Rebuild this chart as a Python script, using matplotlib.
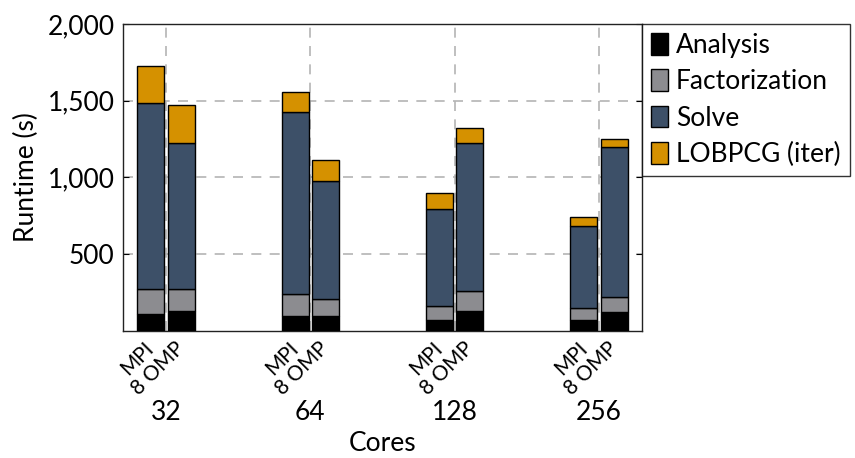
import matplotlib
matplotlib.use("Agg")
import matplotlib.pyplot as plt
import numpy as np

plt.rcParams['font.family'] = ['Lato', 'DejaVu Sans']

cores = ["32", "64", "128", "256"]
configs = ["MPI", "8 OMP"]
series = ["Analysis", "Factorization", "Solve", "LOBPCG (iter)"]
colors = ["#000000", "#8c8c90", "#3d5068", "#d59100"]

mpi_analysis = [113, 98, 74, 72]
mpi_factorization = [161, 143, 91, 78]
mpi_solve = [1211, 1183, 628, 535]
mpi_lobpcg = [243, 135, 105, 60]

omp_analysis = [128, 98, 128, 126]
omp_factorization = [148, 111, 131, 98]
omp_solve = [948, 771, 967, 972]
omp_lobpcg = [248, 137, 94, 52]

yticks = [500, 1000, 1500, 2000]

fig = plt.figure(figsize=(8.55, 4.58), dpi=100)
ax = fig.add_axes([0.1439, 0.2773, 0.6064, 0.6703])

groups = np.arange(len(cores))
offset = 0.105
width = 0.187

mpi = [mpi_analysis, mpi_factorization, mpi_solve, mpi_lobpcg]
omp = [omp_analysis, omp_factorization, omp_solve, omp_lobpcg]

for data, sign in ((mpi, -1), (omp, 1)):
    bottom = np.zeros(len(cores))
    for vals, col, name in zip(data, colors, series):
        ax.bar(groups + sign * offset, vals, width, bottom=bottom, color=col,
               edgecolor="black", linewidth=1.0,
               label=name if sign == -1 else None, zorder=3)
        bottom += np.array(vals)

ax.set_xlim(-0.298, 3.294)
ax.set_ylim(0, 2000)
ax.set_yticks(yticks)
ax.set_yticklabels([f"{v:,}" for v in yticks], fontsize=19)
ax.tick_params(axis='y', direction='in', length=4, right=True, pad=6)

pos = np.concatenate([groups - offset, groups + offset])
labs = [configs[0]] * len(cores) + [configs[1]] * len(cores)
order = np.argsort(pos)
ax.set_xticks(pos[order])
ax.set_xticklabels([labs[i] for i in order], rotation=45, ha='right', va='center',
                   rotation_mode='anchor', fontsize=15)
ax.tick_params(axis='x', which='major', length=0, pad=10)
ax.set_xticks(groups, minor=True)
ax.tick_params(axis='x', which='minor', length=0)

ax.set_axisbelow(True)
ax.grid(axis='y', which='major', color='#b4b4b4', linestyle=(0, (6, 5)), linewidth=1.2)
ax.grid(axis='x', which='minor', color='#b4b4b4', linestyle=(0, (6, 5)), linewidth=1.2)

for sp in ax.spines.values():
    sp.set_color('#222222')
    sp.set_linewidth(1.0)

for g, c in zip(groups, cores):
    ax.text(g, -0.264, c, transform=ax.get_xaxis_transform(), ha='center', va='center', fontsize=19)
ax.text(0.5, -0.365, "Cores", transform=ax.transAxes, ha='center', va='center', fontsize=19)
ax.set_ylabel("Runtime (s)", fontsize=19, labelpad=6)

leg = ax.legend(loc='upper left', bbox_to_anchor=(1.0, 1.0), borderaxespad=0,
                fontsize=19, frameon=True, fancybox=False, edgecolor='black',
                handlelength=0.65, handleheight=0.9, handletextpad=0.3,
                labelspacing=0.42, borderpad=0.35)
leg.get_frame().set_linewidth(1.0)

fig.savefig("out.png", dpi=100)
